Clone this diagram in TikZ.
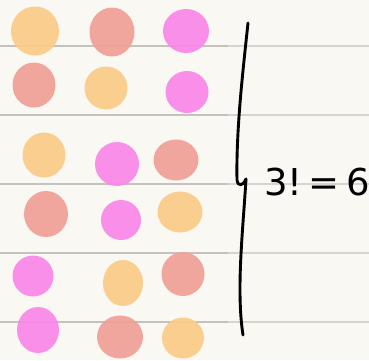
\documentclass[tikz,border=0pt]{standalone}
\usepackage{fontspec}
\setsansfont{DejaVu Sans}
\definecolor{paper}{HTML}{FAF8F3}
\definecolor{ruleA}{HTML}{C4C2BC}
\definecolor{ruleB}{HTML}{D6D4CE}
\definecolor{cOr}{HTML}{FACB86}
\definecolor{cSa}{HTML}{F1A096}
\definecolor{cMa}{HTML}{F987E8}
\tikzset{
  ruleline/.style={line width=1.1pt},
  blob/.style={draw=none, fill opacity=0.92},
  ink/.style={line width=2.9pt, line cap=round, line join=round, black},
}
\begin{document}
\begin{tikzpicture}[x=1pt,y=-1pt]
\fill[paper] (0,0) rectangle (369,360);
\useasboundingbox (0,0) rectangle (369,360);
% ruled lines
\foreach \yy in {46,115,184,253,322}{
  \draw[ruleline,ruleA] (0,\yy) -- (228,\yy);
  \draw[ruleline,ruleB] (228,\yy) -- (369,\yy);
}
% blobs: row 1
\fill[blob,cOr] (35,31) ellipse [x radius=24, y radius=24.5];
\fill[blob,cSa] (112,32) ellipse [x radius=22.5, y radius=24.5];
\fill[blob,cMa] (186,31) ellipse [x radius=23, y radius=22];
% row 2
\fill[blob,cSa] (34,85) ellipse [x radius=21.5, y radius=22.5];
\fill[blob,cOr] (106,88) ellipse [x radius=21.5, y radius=21.5];
\fill[blob,cMa] (187,92) ellipse [x radius=21.5, y radius=21];
% row 3
\fill[blob,cOr] (44,155) ellipse [x radius=21.5, y radius=22.5];
\fill[blob,cMa] (117,164) ellipse [x radius=22, y radius=22];
\fill[blob,cSa] (176,160) ellipse [x radius=22.5, y radius=20.5];
% row 4
\fill[blob,cSa] (46,214) ellipse [x radius=22, y radius=23];
\fill[blob,cMa] (121,220) ellipse [x radius=20, y radius=20];
\fill[blob,cOr] (180,212) ellipse [x radius=22.5, y radius=20.5];
% row 5
\fill[blob,cMa] (33,276) ellipse [x radius=20.5, y radius=20.5];
\fill[blob,cOr] (123,283) ellipse [x radius=20, y radius=23];
\fill[blob,cSa] (183,274) ellipse [x radius=21.5, y radius=22];
% row 6
\fill[blob,cMa] (38,330) ellipse [x radius=21, y radius=23];
\fill[blob,cSa] (120,337) ellipse [x radius=23, y radius=21.5];
\fill[blob,cOr] (183,338) ellipse [x radius=21, y radius=20.5];
% brace
\coordinate (btop) at (248,23);
\coordinate (btip) at (246,179);
\coordinate (bbot) at (243,335);
\draw[ink] (btop) .. controls (243,70) and (236,130) .. (237,180)
  .. controls (238,187) and (243,186) .. (btip);
\draw[ink] (btip) .. controls (243,230) and (236,290) .. (bbot);
% label
\node[font=\sffamily\fontsize{37}{37}\selectfont, anchor=center, inner sep=0pt] (lbl) at (317,182) {3!\,=\,6};
\end{tikzpicture}
\end{document}
